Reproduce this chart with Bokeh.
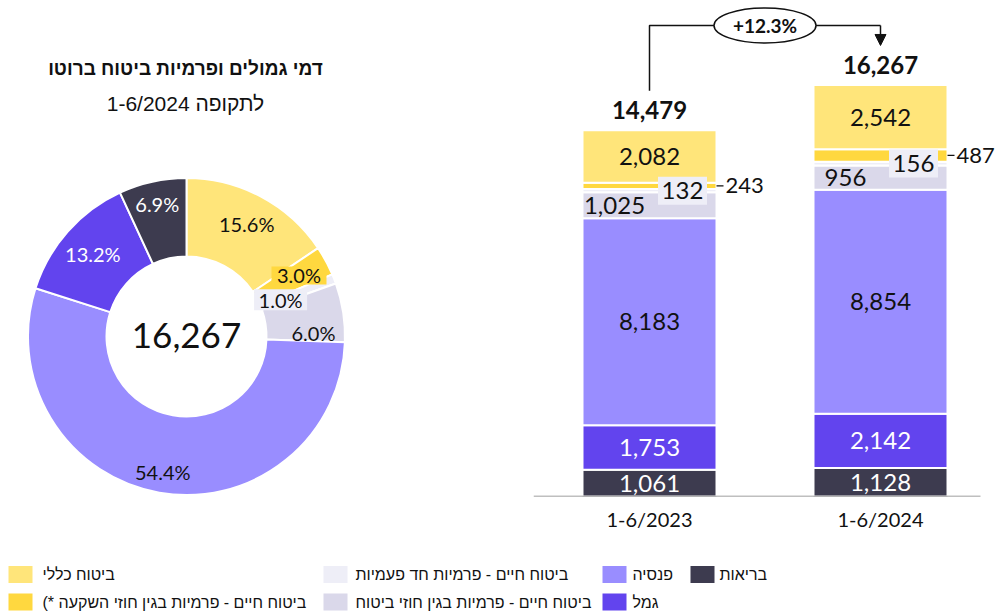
import numpy as np
from bokeh.plotting import figure
from bokeh.models import Range1d, FixedTicker, Arrow, NormalHead, ColumnDataSource
from bokeh.layouts import column, row
from bokeh.core.properties import value
from bokeh.embed import file_html
from bokeh.resources import INLINE

# ---------------- data ----------------
categories = [
    "בריאות",
    "גמל",
    "פנסיה",
    "ביטוח חיים - פרמיות בגין חוזי ביטוח",
    "ביטוח חיים - פרמיות חד פעמיות",
    "ביטוח חיים - פרמיות בגין חוזי השקעה *)\u200f",
    "ביטוח כללי",
]
periods = ["1-6/2023", "1-6/2024"]
values_2023 = [1061, 1753, 8183, 1025, 132, 243, 2082]
values_2024 = [1128, 2142, 8854, 956, 156, 487, 2542]
totals = [14479, 16267]
donut_pct = [6.9, 13.2, 54.4, 6.0, 1.0, 3.0, 15.6]
donut_total = "16,267"
title = "דמי גמולים ופרמיות ביטוח ברוטו"
subtitle = "לתקופה 1-6/2024"

# ---------------- styles ----------------
colors = ["#3D3B4F", "#6244EE", "#998DFF", "#DAD8EA", "#EEEEF7", "#FFD83F", "#FFE57A"]
label_colors = ["white", "white", "#111111", "#111111", "#111111", "#111111", "#111111"]
label_mode = ["center", "center", "center", "left", "box", "outside", "center"]
NUM_FONT = value("Lato")
HEB_FONT = value("Liberation Sans")
TOP_H = 550
FRAME_H = 496          # plot frame height shared by donut and bars
BOTTOM = TOP_H - FRAME_H

# ================= donut =================
DON_W = 533
CX, CY = 186, 336
donut = figure(width=DON_W, height=TOP_H, x_range=Range1d(-CX, DON_W - CX),
               y_range=Range1d(-(FRAME_H - CY), CY),
               output_backend="svg", toolbar_location=None, min_border_left=0, min_border_right=0,
               min_border_top=0, min_border_bottom=BOTTOM,
               x_axis_location=None, y_axis_location=None)
donut.grid.visible = False
donut.outline_line_color = None

order = list(range(len(categories)))[::-1]  # clockwise from top: general insurance first
pct = np.array([donut_pct[i] for i in order], dtype=float)
frac = pct / pct.sum()
cum = np.concatenate([[0], np.cumsum(frac)])
theta_start = 2 * np.pi * cum[:-1]
theta_end = 2 * np.pi * cum[1:]
dsrc = ColumnDataSource(dict(
    start=np.pi / 2 - theta_start,
    end=np.pi / 2 - theta_end,
    color=[colors[i] for i in order],
))
donut.annular_wedge(x=0, y=0, inner_radius=80, outer_radius=158.5, start_angle="start", end_angle="end",
                    direction="clock", fill_color="color", line_color="white", line_width=2, source=dsrc)

label_r = [128, 128, 101, 127, 138, 125, 136]
label_nudge = [0, 0, 0, 7, 0, 0, 0]
mid = (theta_start + theta_end) / 2 + np.radians(label_nudge)
lx = np.array(label_r) * np.sin(mid)
ly = np.array(label_r) * np.cos(mid)
ptxt = [f"{p:.1f}%" for p in pct]
pcol = [label_colors[i] for i in order]
box_cols = {5: ("#FFD83F", 55, 18), 4: ("#EEEEF7", 53, 21)}
for k, i in enumerate(order):
    if i in box_cols:
        c, w, h = box_cols[i]
        donut.rect(x=lx[k], y=ly[k], width=w, height=h, fill_color=c, line_color=None)
donut.text(x=lx, y=ly, text=ptxt, text_color=pcol, text_align="center", text_baseline="middle",
           text_font=NUM_FONT, text_font_size="20px")
donut.text(x=[0], y=[1], text=[donut_total], text_align="center", text_baseline="middle",
           text_font=NUM_FONT, text_font_size="35px", text_color="#111111")
donut.text(x=[-1], y=[268], text=[title], text_align="center", text_baseline="middle",
           text_font=HEB_FONT, text_font_size="19px", text_font_style="bold", text_color="#111111")
donut.text(x=[-1], y=[233], text=[subtitle], text_align="center", text_baseline="middle",
           text_font=HEB_FONT, text_font_size="21px", text_color="#111111")

# ================= stacked bars =================
PITCH = 231.0  # px between bar centres
BAR_W = 995 - DON_W
x0 = -(649 - DON_W) / PITCH
bar = figure(width=BAR_W, height=TOP_H, x_range=Range1d(x0, x0 + BAR_W / PITCH),
             y_range=Range1d(0, FRAME_H / 0.0253), output_backend="svg", toolbar_location=None,
             y_axis_location=None, min_border_left=0, min_border_right=0, min_border_top=0,
             min_border_bottom=BOTTOM)
bar.grid.visible = False
bar.outline_line_color = None
BW = 134 / PITCH

series = [values_2023, values_2024]
xs, bots, tops, cols = [], [], [], []
for pi_, vals in enumerate(series):
    c = np.concatenate([[0], np.cumsum(vals)])
    for j in range(len(vals)):
        xs.append(pi_); bots.append(c[j]); tops.append(c[j + 1]); cols.append(colors[j])
bar.vbar(x=xs, bottom=bots, top=tops, width=BW, fill_color=cols, line_color="white", line_width=2)

# baseline (category axis line), ending a little before the right edge
bar.segment(x0=[x0], y0=[0], x1=[1 + 100 / PITCH], y1=[0], line_color="#808080", line_width=1.5)

for pi_, vals in enumerate(series):
    c = np.concatenate([[0], np.cumsum(vals)])
    for j, v in enumerate(vals):
        m = (c[j] + c[j + 1]) / 2
        t = f"{v:,}"
        mode = label_mode[j]
        if mode == "center":
            bar.text(x=[pi_], y=[m], text=[t], text_align="center", text_baseline="middle",
                     text_font=NUM_FONT, text_font_size="24px", text_color=label_colors[j])
        elif mode == "left":
            bar.text(x=[pi_], y=[m], text=[t], text_align="center", text_baseline="middle", x_offset=-35,
                     text_font=NUM_FONT, text_font_size="24px", text_color=label_colors[j])
        elif mode == "box":
            bx = pi_ + 33 / PITCH
            bar.rect(x=[bx], y=[m], width=49, height=28, width_units="screen", height_units="screen",
                     fill_color=colors[j], line_color=None)
            bar.text(x=[bx], y=[m], text=[t], text_align="center", text_baseline="middle",
                     text_font=NUM_FONT, text_font_size="24px", text_color=label_colors[j])
        elif mode == "outside":
            ex = pi_ + BW / 2
            bar.segment(x0=[ex], y0=[m], x1=[ex + 7 / PITCH], y1=[m], line_color="#111111", line_width=1.3)
            bar.text(x=[ex], y=[m], text=[t], text_align="left", text_baseline="middle", x_offset=9,
                     text_font=NUM_FONT, text_font_size="22px", text_color=label_colors[j])

bar.text(x=[0, 1], y=totals, text=[f"{t:,}" for t in totals], text_align="center",
         text_baseline="alphabetic", y_offset=-20, text_font=NUM_FONT, text_font_size="24px",
         text_font_style="bold", text_color="#111111")

# growth annotation
off = 1560
level = max(totals) + 2350
bar.line(x=[0, 0, 1], y=[totals[0] + off, level, level], line_color="#111111", line_width=1.5)
bar.add_layout(Arrow(end=NormalHead(size=11, fill_color="#111111", line_color="#111111"),
                     x_start=1, y_start=level, x_end=1, y_end=totals[1] + off,
                     line_color="#111111", line_width=1.5))
growth = (totals[1] - totals[0]) / totals[0] * 100
bar.ellipse(x=[0.5], y=[level], width=102, height=35, width_units="screen", height_units="screen",
            fill_color="white", line_color="#111111", line_width=1.5)
bar.text(x=[0.5], y=[level], text=[f"+{growth:.1f}%"], text_align="center", text_baseline="middle",
         text_font=NUM_FONT, text_font_size="19px", text_font_style="bold", text_color="#111111")

ax = bar.xaxis[0]
ax.ticker = FixedTicker(ticks=[0, 1])
ax.major_label_overrides = {0: periods[0], 1: periods[1]}
ax.major_tick_line_color = None
ax.minor_tick_line_color = None
ax.axis_line_color = None
ax.major_label_standoff = 4
ax.major_label_text_font = "Lato"
ax.major_label_text_font_size = "20px"
ax.major_label_text_color = "#111111"

# ================= legend =================
LEG_H = 612 - TOP_H
leg = figure(width=995, height=LEG_H, x_range=Range1d(0, 995), y_range=Range1d(LEG_H, 0),
             output_backend="svg", toolbar_location=None, min_border=0,
             x_axis_location=None, y_axis_location=None)
leg.grid.visible = False
leg.outline_line_color = None
sw_left = [8, 323, 602, 690]
tx_left = [42, 355, 632, 719]
row_y = [574 - TOP_H, 601.5 - TOP_H]
leg_order = list(range(len(categories)))[::-1]
lx_s, ly_s, lc, tx, ty, tt = [], [], [], [], [], []
for k, i in enumerate(leg_order):
    ci, ri = divmod(k, 2)
    lx_s.append(sw_left[ci] + 12); ly_s.append(row_y[ri]); lc.append(colors[i])
    tx.append(tx_left[ci]); ty.append(row_y[ri]); tt.append(categories[i])
leg.rect(x=lx_s, y=ly_s, width=24, height=17, fill_color=lc, line_color=None)
leg.text(x=tx, y=ty, text=tt, text_align="left", text_baseline="middle", text_font=HEB_FONT,
         text_font_size="16px", text_color="#111111")

layout = column(row(donut, bar), leg)
open("out.html", "w").write(file_html(layout, INLINE))
